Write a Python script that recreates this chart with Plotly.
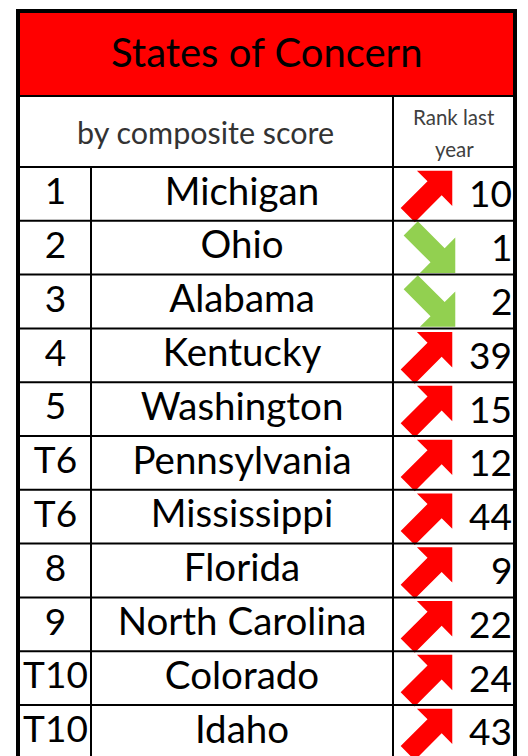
import plotly.graph_objects as go
import math

# ---- data ----
title = "States of Concern"
subtitle = "by composite score"
rank_header = ["Rank last", "year"]
ranks = ["1", "2", "3", "4", "5", "T6", "T6", "8", "9", "T10", "T10"]
states = ["Michigan", "Ohio", "Alabama", "Kentucky", "Washington", "Pennsylvania",
          "Mississippi", "Florida", "North Carolina", "Colorado", "Idaho"]
last_year = [10, 1, 2, 39, 15, 12, 44, 9, 22, 24, 43]

# ---- layout constants (page-pixel data space; page body has an 8px margin) ----
W, H = 528, 756
OFF = 8
X0, X1, X2, X3 = 18, 91, 393, 515
Y_TOP, Y_RED, Y_SUB = 11, 96, 167
ROW_H = 53.8
FONT = "Lato, 'Noto Sans', sans-serif"
RED = "#FF0000"
GREEN = "#92D050"

n = len(states)
row_c = [Y_SUB + ROW_H * (i + 0.5) for i in range(n)]

fig = go.Figure()

shapes = []
shapes.append(dict(type="rect", xref="x", yref="y", x0=X0, x1=X3, y0=Y_TOP, y1=Y_RED,
                   fillcolor=RED, line=dict(width=0), layer="below"))
hl = [Y_RED, Y_SUB] + [Y_SUB + ROW_H * (i + 1) for i in range(n)]
for y in hl:
    shapes.append(dict(type="line", xref="x", yref="y", x0=X0, x1=X3, y0=y, y1=y,
                       line=dict(color="black", width=2)))
shapes.append(dict(type="line", xref="x", yref="y", x0=X1, x1=X1, y0=Y_SUB, y1=H + 10,
                   line=dict(color="black", width=2)))
shapes.append(dict(type="line", xref="x", yref="y", x0=X2, x1=X2, y0=Y_RED, y1=H + 10,
                   line=dict(color="black", width=2)))
shapes.append(dict(type="line", xref="x", yref="y", x0=X0, x1=X0, y0=Y_TOP - 2, y1=H + 10,
                   line=dict(color="black", width=4)))
shapes.append(dict(type="line", xref="x", yref="y", x0=X3, x1=X3, y0=Y_TOP - 2, y1=H + 10,
                   line=dict(color="black", width=4)))
shapes.append(dict(type="line", xref="x", yref="y", x0=X0 - 2, x1=X3 + 2, y0=Y_TOP, y1=Y_TOP,
                   line=dict(color="black", width=4)))

# arrows
L, w, HH = 63, 20, 50
h = HH / 2
local = [(0, -w / 2), (L - h, -w / 2), (L - h, -HH / 2), (L, 0), (L - h, HH / 2), (L - h, w / 2), (0, w / 2)]
for i in range(n):
    cur = int(ranks[i].lstrip("T"))
    up = cur < last_year[i]
    if up:
        d = (1 / math.sqrt(2), -1 / math.sqrt(2))
        cx, cy = 430, row_c[i] - 1
        col = RED
    else:
        d = (1 / math.sqrt(2), 1 / math.sqrt(2))
        cx, cy = 433, row_c[i] + 3
        col = GREEN
    p = (-d[1], d[0])
    xs, ys = [], []
    for u, v in local:
        uu = u - L / 2
        xs.append(cx + uu * d[0] + v * p[0])
        ys.append(cy + uu * d[1] + v * p[1])
    xs.append(xs[0]); ys.append(ys[0])
    fig.add_trace(go.Scatter(x=xs, y=ys, mode="lines", fill="toself", fillcolor=col,
                             line=dict(width=0, color=col), hoverinfo="skip", showlegend=False))

fig.add_trace(go.Scatter(x=[(X0 + X1) / 2 + 1] * n, y=[c + 1 for c in row_c], mode="text", text=ranks,
                         textfont=dict(family=FONT, size=37, color="black"), showlegend=False))
fig.add_trace(go.Scatter(x=[(X1 + X2) / 2] * n, y=[c + 1 for c in row_c], mode="text", text=states,
                         textfont=dict(family=FONT, size=38.5, color="black"), showlegend=False))

annotations = []
for i in range(n):
    annotations.append(dict(x=514, y=row_c[i] - 1, xref="x", yref="y", text=str(last_year[i]),
                            showarrow=False, xanchor="right", yanchor="middle",
                            font=dict(family=FONT, size=37, color="black")))
annotations.append(dict(x=(X0 + X3) / 2, y=(Y_TOP + Y_RED) / 2 - 2, xref="x", yref="y", text=title,
                        showarrow=False, xanchor="center", yanchor="middle",
                        font=dict(family=FONT, size=40, color="black")))
annotations.append(dict(x=(X0 + X2) / 2, y=(Y_RED + Y_SUB) / 2, xref="x", yref="y", text=subtitle,
                        showarrow=False, xanchor="center", yanchor="middle",
                        font=dict(family=FONT, size=30.5, color="#333333")))
annotations.append(dict(x=(X2 + X3) / 2, y=117, xref="x", yref="y", text=rank_header[0],
                        showarrow=False, xanchor="center", yanchor="middle",
                        font=dict(family=FONT, size=20.5, color="#404040")))
annotations.append(dict(x=(X2 + X3) / 2, y=149, xref="x", yref="y", text=rank_header[1],
                        showarrow=False, xanchor="center", yanchor="middle",
                        font=dict(family=FONT, size=20.5, color="#404040")))

fig.update_layout(
    width=W - OFF, height=H - OFF, margin=dict(l=0, r=0, t=0, b=0),
    paper_bgcolor="white", plot_bgcolor="white",
    xaxis=dict(range=[OFF, W], visible=False, fixedrange=True),
    yaxis=dict(range=[H, OFF], visible=False, fixedrange=True),
    shapes=shapes, annotations=annotations, showlegend=False,
)
fig.write_html("out.html")
